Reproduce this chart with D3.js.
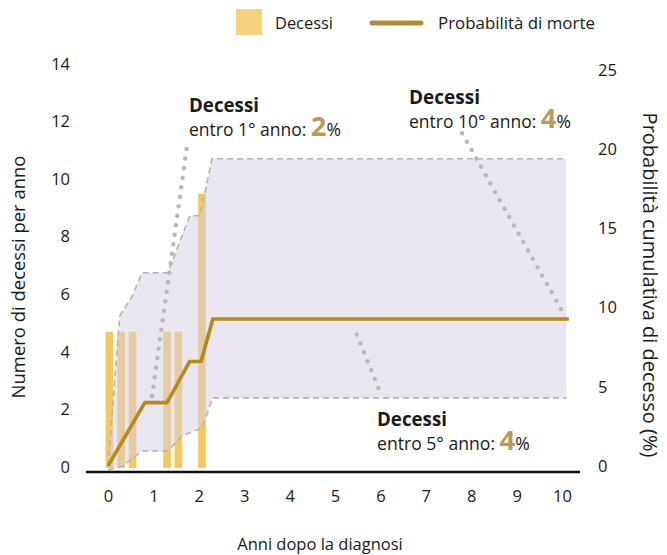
<!DOCTYPE html>
<html><head><meta charset="utf-8">
<script src="https://cdn.jsdelivr.net/npm/d3@7/dist/d3.min.js"></script>
<style>
body{margin:0;background:#fff;}
text{font-family:"Open Sans",sans-serif;fill:#1a1a1a;}
</style></head>
<body><svg id="c" width="667" height="555"></svg>
<script>
// ---- data ----
const barYears = [0.03, 0.29, 0.54, 1.3, 1.55, 2.07];
const barDeaths = [4.7, 4.7, 4.7, 4.7, 4.7, 9.5];
const probX = [0, 0.81, 1.3, 1.8, 2.05, 2.31, 10.15];
const probY = [0, 4.0, 4.0, 6.6, 6.6, 9.28, 9.28];
const upperX = [0, 0.26, 0.53, 0.75, 1.32, 1.8, 2.03, 2.29, 10.1];
const upperY = [0, 9.5, 10.7, 12.2, 12.2, 15.8, 15.8, 19.4, 19.4];
const lowerX = [0, 0.33, 0.75, 1.32, 1.63, 2.07, 2.31, 10.1];
const lowerY = [-0.25, 0, 0.95, 0.95, 1.9, 2.4, 4.3, 4.3];
const xTicks = [0,1,2,3,4,5,6,7,8,9,10];
const leftTicks = [0,2,4,6,8,10,12,14];
const rightTicks = [0,5,10,15,20,25];
const annTitles = ["Decessi","Decessi","Decessi"];
const annPrefix = ["entro 1° anno: ","entro 10° anno: ","entro 5° anno: "];
const annValue = ["2","4","4"];
const leaderFromX = [0.97, 7.8, 5.48], leaderFromY = [4.4, 21.0, 8.3];
const leaderToX = [1.74, 10.0, 6.03], leaderToY = [20.2, 9.8, 4.4];

const svg = d3.select("#c");
const x = d3.scaleLinear().domain([0,10]).range([108,562]);
const yL = d3.scaleLinear().domain([0,14]).range([467,64]);
const yR = d3.scaleLinear().domain([0,25]).range([466,70]);

// scale a text's font-size so that its width matches a target width
function fitBox(sel, target) {
  const w = sel.node().getComputedTextLength();
  const k = target / w;
  sel.attr("font-size", +sel.attr("font-size") * k);
  sel.selectAll("tspan").each(function(){ const t = d3.select(this); if (t.attr("font-size")) t.attr("font-size", +t.attr("font-size") * k); });
  return sel;
}

// bars
const bw = 7.6;
svg.append("g").selectAll("rect").data(barYears).join("rect")
  .attr("x", d => x(d) - bw/2).attr("width", bw)
  .attr("y", (d,i) => yL(barDeaths[i])).attr("height", (d,i) => yL(0) - yL(barDeaths[i]) + 1)
  .attr("fill", "#f6c75c");

// band
const up = upperX.map((d,i)=>[x(d), yR(upperY[i])]);
const lo = lowerX.map((d,i)=>[x(d), yR(lowerY[i])]);
svg.append("path").attr("d", d3.line()(up.concat(lo.slice().reverse())) + "Z")
  .attr("fill", "rgb(214,208,226)").attr("fill-opacity", 0.52);
[up, lo].forEach(pts => svg.append("path").attr("d", d3.line()(pts))
  .attr("fill","none").attr("stroke","#b4b4b6").attr("stroke-width",1.6).attr("stroke-dasharray","6,4"));

// dotted leaders
leaderFromX.forEach((d,i) => svg.append("line")
  .attr("x1", x(d)).attr("y1", yR(leaderFromY[i]))
  .attr("x2", x(leaderToX[i])).attr("y2", yR(leaderToY[i]))
  .attr("stroke","#b9b9bc").attr("stroke-width",4.5).attr("stroke-linecap","round")
  .attr("stroke-dasharray","0,9.6"));

// probability line
svg.append("path").datum(probX.map((d,i)=>[d, probY[i]]))
  .attr("d", d3.line().x(d=>x(d[0])).y(d=>yR(d[1])))
  .attr("fill","none").attr("stroke","#b5891c").attr("stroke-width",3.6).attr("stroke-linejoin","round");

// baseline
svg.append("line").attr("x1",86).attr("x2",580).attr("y1",472).attr("y2",472)
  .attr("stroke","#111").attr("stroke-width",2.5);

// axes
const gl = svg.append("g").attr("transform","translate(78,0)")
  .call(d3.axisLeft(yL).tickValues(leftTicks).tickSize(0).tickPadding(8));
const gr = svg.append("g").attr("transform","translate(590,0)")
  .call(d3.axisRight(yR).tickValues(rightTicks).tickSize(0).tickPadding(8));
const gb = svg.append("g").attr("transform","translate(0,490)")
  .call(d3.axisBottom(x).tickValues(xTicks).tickSize(0).tickPadding(0));
[gl,gr,gb].forEach(g => { g.select(".domain").remove();
  g.selectAll("text").attr("font-family","Open Sans").attr("font-size",16.5).attr("fill","#1a1a1a"); });

// axis titles
fitBox(svg.append("text").attr("transform","translate(25,277) rotate(-90)").attr("text-anchor","middle")
  .attr("font-size",16).text("Numero di decessi per anno"), 243);
fitBox(svg.append("text").attr("transform","translate(643,285) rotate(90)").attr("text-anchor","middle")
  .attr("font-size",16).text("Probabilità cumulativa di decesso (%)"), 345);
svg.append("text").attr("x",320).attr("y",550).attr("text-anchor","middle")
  .attr("font-size",16.5).text("Anni dopo la diagnosi");

// legend
svg.append("rect").attr("x",236).attr("y",9).attr("width",26).attr("height",26).attr("fill","#f7d27c");
fitBox(svg.append("text").attr("x",275).attr("y",29).attr("font-size",16).text("Decessi"), 58);
svg.append("line").attr("x1",372).attr("x2",421).attr("y1",23).attr("y2",23)
  .attr("stroke","#b08c3a").attr("stroke-width",5).attr("stroke-linecap","round");
fitBox(svg.append("text").attr("x",438).attr("y",29).attr("font-size",16).text("Probabilità di morte"), 157);

// annotations
const annX = [189, 409, 377], annY = [112, 104, 426];
const annTitleW = [70, 71, 70], annLineW = [152, 162, 153];
annTitles.forEach((t,i) => {
  const tt = svg.append("text").attr("x",annX[i]).attr("y",annY[i]).attr("font-size",17).attr("font-weight",700).text(t);
  fitBox(tt, annTitleW[i]);
  const tx = svg.append("text").attr("x",annX[i]).attr("y",annY[i]+23.5).attr("font-size",16);
  tx.append("tspan").text(annPrefix[i]);
  tx.append("tspan").attr("font-size",25).attr("font-weight",700).style("fill","#bc9a5a").text(annValue[i]);
  tx.append("tspan").attr("font-size",16).text("%");
  fitBox(tx, annLineW[i]);
});
</script></body></html>
